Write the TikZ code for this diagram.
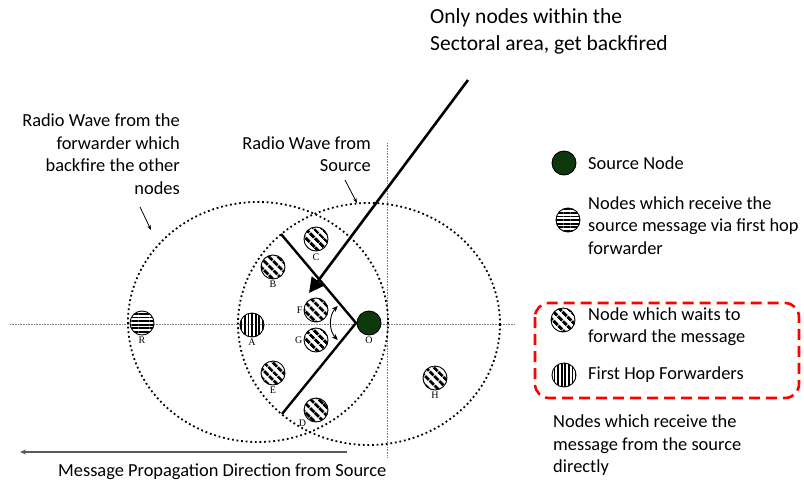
\documentclass[tikz,border=0pt]{standalone}
\usepackage{fontspec}
\setmainfont{Carlito}
\newfontfamily\lblfont{Liberation Serif}
\usetikzlibrary{arrows.meta,patterns.meta,positioning}
\definecolor{srcgreen}{RGB}{12,56,12}
\begin{document}
\begin{tikzpicture}[x=1pt,y=-1pt,
 n/.style={circle,draw,line width=0.9pt,minimum size=24pt,inner sep=0pt},
 src/.style={n,fill=srcgreen},
 wt/.style={n,pattern={Lines[angle=-45,distance=6.5pt,line width=3.2pt]}},
 hop/.style={n,pattern={Lines[angle=90,distance=3.6pt,line width=1.8pt]}},
 rcv/.style={n,pattern={Lines[angle=0,distance=3.6pt,line width=1.8pt]}},
 lbl/.style={font=\lblfont\fontsize{10}{10}\selectfont,inner sep=1pt},
 txt/.style={font=\fontsize{18.4}{22.5}\selectfont,inner sep=0pt},
 wave/.style={line width=1.8pt,dash pattern=on 1.8pt off 2.8pt},
 axisline/.style={gray,line width=0.6pt,densely dotted},
 sector/.style={line width=2.4pt}]
\useasboundingbox (0,0) rectangle (804,483);

\coordinate (hl) at (10,324);
\coordinate (hr) at (515,324);
\coordinate (vt) at (387,143);
\coordinate (vb) at (387,457);
\draw[axisline] (hl) -- (hr);
\draw[axisline] (vt) -- (vb);
\draw[wave] (258,322) ellipse [x radius=130,y radius=120];
\draw[wave] (369,324) ellipse [x radius=131,y radius=121];

\coordinate (apex) at (356,323);
\coordinate (su) at (281,234);
\coordinate (sl) at (282,414);
\draw[sector] (su) -- (apex) -- (sl);
\draw[{Stealth[length=6pt,width=5pt]}-{Stealth[length=6pt,width=5pt]},line width=0.9pt] ([shift={(137:25)}]apex) arc[start angle=137,end angle=223,radius=25];

\node[wt] (C) at (316,239) {};
\node[wt] (B) at (273,267) {};
\node[wt] (F) at (316,310) {};
\node[hop] (A) at (252,325) {};
\node[wt] (G) at (316,340) {};
\node[src] (O) at (369,323) {};
\node[wt] (E) at (273,373) {};
\node[wt] (D) at (316,410) {};
\node[wt] (H) at (435,378) {};
\node[rcv] (R) at (142,323) {};
\node[lbl,below] (lC) at (C.south) {C};
\node[lbl,below] (lB) at (B.south) {B};
\node[lbl,left] (lF) at (F.west) {F};
\node[lbl,below] (lA) at (A.south) {A};
\node[lbl,left] (lG) at (G.west) {G};
\node[lbl,below] (lO) at (O.south) {O};
\node[lbl,below] (lE) at (E.south) {E};
\node[lbl,below left] (lD) at (D.south west) {D};
\node[lbl,below] (lH) at (H.south) {H};
\node[lbl,below] (lR) at (R.south) {R};

\coordinate (tail) at (468,80);
\coordinate (tip) at (309,293);
\draw[line width=2.6pt,-{Triangle[length=15pt,width=15pt]}] (tail) -- (tip);

\node[txt,anchor=west,align=left,font=\fontsize{21.5}{27}\selectfont] (top) at (430,31.5) {Only nodes within the\\Sectoral area, get backfired};
\node[txt,anchor=east,align=right] (wfwd) at (180,154) {Radio Wave from the\\forwarder which\\backfire the other\\nodes};
\node[txt,anchor=east,align=right] (wsrc) at (371,154) {Radio Wave from\\Source};
\coordinate (f1) at (140,207);
\coordinate (f2) at (151,230);
\coordinate (s1) at (345,180);
\coordinate (s2) at (357,203);
\draw[line width=0.8pt,-{Stealth[length=5pt]}] (f1) -- (f2);
\draw[line width=0.8pt,-{Stealth[length=5pt]}] (s1) -- (s2);

\node[src] (kS) at (564,163) {};
\node[rcv] (kR) at (568,220) {};
\node[wt] (kW) at (563,320) {};
\node[hop] (kA) at (564,375) {};
\node[txt,anchor=west] (tS) at (588,163) {Source Node};
\node[txt,anchor=west,align=left] (tR) at (588,225.5) {Nodes which receive the\\source message via first hop\\forwarder};
\node[txt,anchor=west,align=left] (tW) at (588,326.5) {Node which waits to\\forward the message};
\node[txt,anchor=west] (tA) at (588,375) {First Hop Forwarders};
\draw[red,line width=2.6pt,dash pattern=on 11pt off 6pt,rounded corners=14pt] (535,303) rectangle (799,398);
\node[txt,anchor=west,align=left] (tD) at (553,445.5) {Nodes which receive the\\message from the source\\directly};

\coordinate (m1) at (347,452);
\coordinate (m2) at (20,452);
\draw[gray!70!black,line width=1.2pt,-{Stealth[length=6pt,width=5pt]}] (m1) -- (m2);
\node[txt,anchor=west] (tM) at (58,472) {Message Propagation Direction from Source};
\end{tikzpicture}
\end{document}
